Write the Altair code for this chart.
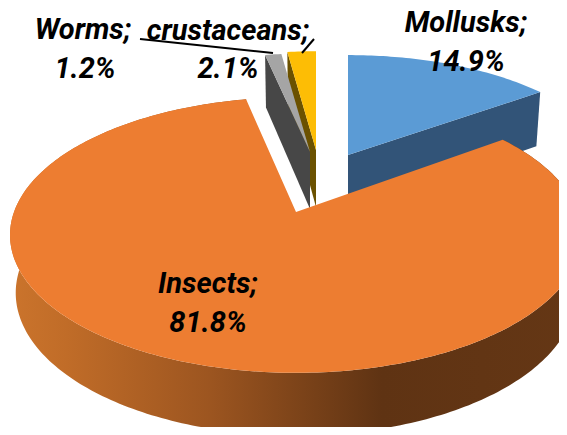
import math
import altair as alt

# Chart values
categories = ["Mollusks", "Insects", "Worms", "Crustaceans"]
shares = [14.9, 81.8, 1.2, 2.1]

# Label text
label_lines = ["Worms;", "1.2%", "crustaceans;", "2.1%", "Mollusks;", "14.9%", "Insects;", "81.8%"]
label_x = [83, 85, 228, 228, 466, 466, 208, 208]
label_y = [39, 78, 40, 78, 32, 71, 293, 332]

# Projection parameters of the tilted pie (page pixels)
K = 0.1667
RX, RY = 282, 134
DEPTH = 57
DEPTH_K = 0.09
apex = {"Mollusks": (348, 155), "Insects": (296, 212), "Worms": (310, 152), "Crustaceans": (316, 150)}
scale = {"Mollusks": (0.93, 0.87), "Insects": (1, 1), "Worms": (0.9, 0.86), "Crustaceans": (0.9, 0.86)}

# Slice angles come from the shares
angles = {}
a = 0.0
for c, s in zip(categories, shares):
    angles[c] = (a, a + s * 3.6)
    a += s * 3.6


def top(c, theta):
    t = math.radians(theta)
    u, v = math.sin(t), math.cos(t)
    d = 1 + K * v
    ax, ay = apex[c]
    sx, sy = scale[c]
    return [ax + sx * RX * u / d, ay - sy * RY * v / d]


def down(c, p, theta):
    ax = apex[c][0]
    v = math.cos(math.radians(theta))
    return [ax + 0.98 * (p[0] - ax), p[1] + DEPTH / (1 + DEPTH_K * v)]


def arc_angles(a0, a1):
    n = max(2, int(abs(a1 - a0)) + 1)
    return [a0 + (a1 - a0) * i / n for i in range(n + 1)]


def poly(points):
    ring = points + [points[0]]
    return {"type": "Feature", "properties": {}, "geometry": {"type": "Polygon", "coordinates": [ring]}}


def face(c):
    a0, a1 = angles[c]
    return poly([list(apex[c])] + [top(c, t) for t in arc_angles(a0, a1)])


def radial(c, theta):
    p = top(c, theta)
    q = list(apex[c])
    return poly([p, q, [q[0], q[1] + DEPTH], down(c, p, theta)])


def rim(c):
    a0, a1 = angles[c]
    ts = arc_angles(a0, a1)
    return poly([top(c, t) for t in ts] + [down(c, top(c, t), t) for t in reversed(ts)])


PROJ = dict(type="identity", scale=1, translate=[-8, -8])


def shape(feature, fill):
    return alt.Chart(alt.Data(values=[feature])).mark_geoshape(
        fill=fill, strokeWidth=0
    ).project(**PROJ)


rim_fill = alt.LinearGradient(
    gradient="linear", x1=0, x2=1, y1=0, y2=0,
    stops=[
        alt.GradientStop(color="#cb742c", offset=0),
        alt.GradientStop(color="#c06c28", offset=0.1),
        alt.GradientStop(color="#9c5520", offset=0.35),
        alt.GradientStop(color="#5f3313", offset=0.65),
        alt.GradientStop(color="#653715", offset=1),
    ],
)

a_m, b_m = angles["Mollusks"]
a_w, _ = angles["Worms"]
a_c, _ = angles["Crustaceans"]

layers = [
    shape(radial("Mollusks", a_m), "#2f5070"),
    shape(radial("Mollusks", b_m), "#325478"),
    shape(face("Mollusks"), "#5b9bd5"),
    shape(radial("Crustaceans", a_c), "#6b5100"),
    shape(face("Crustaceans"), "#fdbd05"),
    shape(radial("Worms", a_w), "#474747"),
    shape(face("Worms"), "#a5a5a5"),
    shape(rim("Insects"), rim_fill),
    shape(face("Insects"), "#ed7d31"),
]

text_rows = [
    {"t": t, "lon": x, "lat": y} for t, x, y in zip(label_lines, label_x, label_y)
]
labels = alt.Chart(alt.Data(values=text_rows)).mark_text(
    font="Roboto", fontSize=29, fontWeight="bold", fontStyle="italic",
    align="center", baseline="alphabetic", color="#000000",
).encode(longitude="lon:Q", latitude="lat:Q", text="t:N").project(**PROJ)

leaders = alt.Chart(alt.Data(values=[
    {"type": "Feature", "properties": {}, "geometry": {"type": "LineString", "coordinates": [[140, 39], [273, 53]]}},
    {"type": "Feature", "properties": {}, "geometry": {"type": "LineString", "coordinates": [[302, 53], [314, 39]]}},
])).mark_geoshape(filled=False, stroke="#000000", strokeWidth=2).project(**PROJ)

chart = alt.layer(*layers, leaders, labels).properties(
    width=551, height=419, padding=0, background="#ffffff"
).configure_view(stroke=None)

chart.save("out.html", embed_options={"renderer": "svg", "actions": False})
